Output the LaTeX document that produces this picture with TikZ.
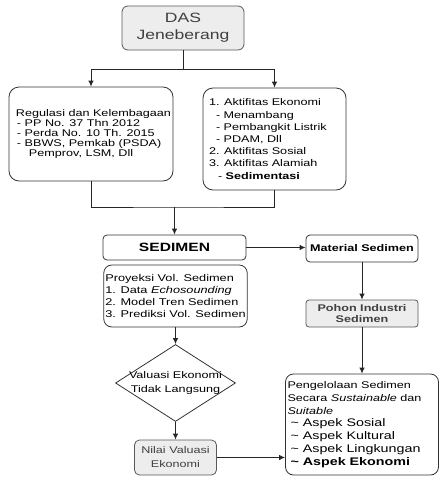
\documentclass[tikz,border=0pt]{standalone}
\usepackage{fontspec}
\setmainfont{Liberation Sans}[FakeStretch=1.3]
\usetikzlibrary{arrows.meta,shapes.geometric}

\newcommand{\txtaspek}{\fontsize{11}{12.8}\selectfont}

\tikzset{
    box/.style={draw=black!80, line width=0.8pt, rounded corners=#1, fill=white, inner ysep=0pt},
    box/.default=8pt,
    graybox/.style={box=#1, draw=black!65, fill=black!7, text=black!75},
    graybox/.default=4pt,
    ln/.style={draw=black!85, line width=0.9pt},
    arr/.style={ln, -{Latex[length=6pt,width=5.5pt]}}
}

\begin{document}
\begin{tikzpicture}[x=1pt, y=-1pt]
    \useasboundingbox (0,0) rectangle (446,488);

    % top
    \node[graybox=6pt, minimum width=122pt, minimum height=44pt, align=center,
        font=\fontsize{13.5}{17}\selectfont] (das) at (183,28) {DAS\\Jeneberang};

    % two branches
    \node[box=10pt, inner xsep=7pt, minimum width=164pt, minimum height=94pt, align=left,
        font=\fontsize{9.7}{9.8}\selectfont] (reg) at (91,134)
        {\makebox[150pt][l]{Regulasi dan Kelembagaan}\\
         \hspace*{1pt}- PP No. 37 Thn 2012\\
         \hspace*{1pt}- Perda No. 10 Th. 2015\\
         \hspace*{1pt}- BBWS, Pemkab (PSDA)\\
         \hspace*{13pt}Pemprov, LSM, Dll};
    \node[box=10pt, inner xsep=6pt, minimum width=143pt, minimum height=102pt, align=left,
        font=\fontsize{9.7}{12.2}\selectfont] (act) at (274.5,139)
        {\makebox[131pt][l]{1. Aktifitas Ekonomi}\\
         \hspace*{7pt}- Menambang\\
         \hspace*{7pt}- Pembangkit Listrik\\
         \hspace*{7pt}- PDAM, Dll\\
         2. Aktifitas Sosial\\
         3. Aktifitas Alamiah\\
         \hspace*{9pt}- \textbf{Sedimentasi}};

    % middle column
    \node[box=4pt, minimum width=143pt, minimum height=25pt,
        font=\bfseries\fontsize{12}{14}\selectfont] (sed) at (174.5,247.5) {SEDIMEN};
    \node[box=8pt, inner xsep=1.5pt, minimum width=142pt, minimum height=62pt, align=left,
        font=\fontsize{9.8}{11.7}\selectfont] (proy) at (175.5,296)
        {\makebox[139pt][l]{Proyeksi Vol. Sedimen}\\
         1. Data \textit{Echosounding}\\
         2. Model Tren Sedimen\\
         3. Prediksi Vol. Sedimen};
    \node[diamond, draw=black!80, line width=0.8pt, minimum width=120pt, minimum height=77pt,
        inner sep=-15pt, align=center, font=\fontsize{9.7}{14}\selectfont] (val) at (175.5,383)
        {Valuasi Ekonomi\\Tidak Langsung};
    \node[graybox=5pt, minimum width=82pt, minimum height=35pt, align=center,
        font=\fontsize{9.7}{14}\selectfont] (nilai) at (175.5,457.5) {Nilai Valuasi\\Ekonomi};

    % right column
    \node[box=4pt, minimum width=112pt, minimum height=27pt,
        font=\bfseries\fontsize{9.7}{11}\selectfont] (mat) at (362,248.5) {Material Sedimen};
    \node[graybox=3pt, minimum width=112pt, minimum height=27pt, align=center,
        font=\bfseries\fontsize{9.7}{11}\selectfont] (pohon) at (362,313.5) {Pohon Industri\\Sedimen};
    \node[box=8pt, inner xsep=2pt, minimum width=153pt, minimum height=101pt, align=left,
        font=\fontsize{9.7}{12.8}\selectfont] (peng) at (362,424.5)
        {\makebox[149pt][l]{Pengelolaan Sedimen}\\
         Secara \textit{Sustainable} dan\\
         \textit{Suitable}\\
         {\txtaspek\hspace*{3pt}\textasciitilde\ Aspek Sosial}\\
         {\txtaspek\hspace*{3pt}\textasciitilde\ Aspek Kultural}\\
         {\txtaspek\hspace*{3pt}\textasciitilde\ Aspek Lingkungan}\\
         {\txtaspek\hspace*{3pt}\textbf{\textasciitilde\ Aspek Ekonomi}}};

    % connectors
    \draw[ln] (das.south) -- ++(0,19) coordinate (split);
    \draw[arr] (split) -| (reg.north);
    \draw[arr] (split) -| (act.north);
    \coordinate (merge) at (174.5,207);
    \draw[ln] (reg.south) |- (merge) -| (act.south);
    \draw[arr] (merge) -- (sed.north);
    \draw[arr] (sed.east) -- (sed.east -| mat.west);
    \draw[arr] (mat.south) -- (pohon.north);
    \draw[arr] (pohon.south) -- (peng.north);
    \draw[arr] (proy.south) -- (val.north);
    \draw[arr] (val.south) -- (nilai.north);
    \draw[arr] (nilai.east) -- (nilai.east -| peng.west);
\end{tikzpicture}
\end{document}
